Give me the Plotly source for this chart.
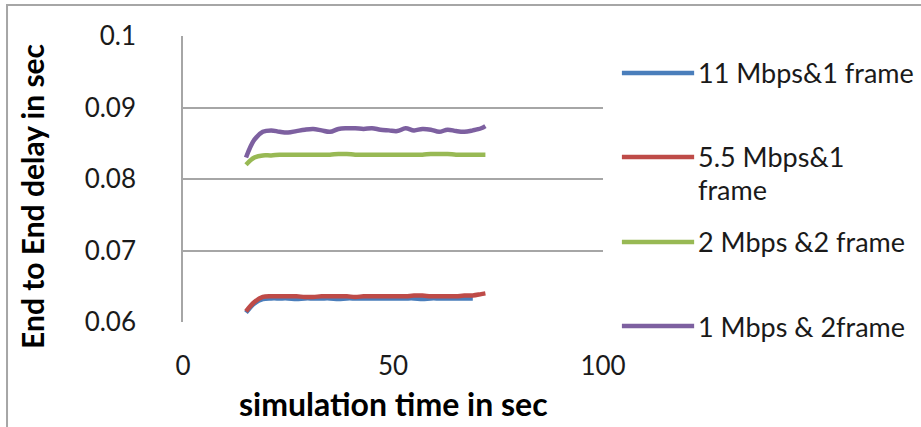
import plotly.graph_objects as go

# ---- data ----
time_s = [15, 17, 19, 21, 23, 25, 27, 29, 31, 33, 35, 37, 39, 41, 43, 45, 47, 49,
          51, 53, 55, 57, 59, 61, 63, 65, 67, 69, 71, 72]

delay_11mbps_1f = [0.0613, 0.0626, 0.0632, 0.0633, 0.0633, 0.0633, 0.0632, 0.0633, 0.0633,
                   0.0633, 0.0633, 0.0632, 0.0633, 0.0633, 0.0633, 0.0633, 0.0633, 0.0633,
                   0.0633, 0.0633, 0.0633, 0.0632, 0.0633, 0.0633, 0.0633, 0.0633, 0.0633,
                   0.0633, None, None]
delay_5_5mbps_1f = [0.0615, 0.0628, 0.0635, 0.0636, 0.0636, 0.0636, 0.0636, 0.0635, 0.0635,
                    0.0636, 0.0636, 0.0636, 0.0636, 0.0635, 0.0636, 0.0636, 0.0636, 0.0636,
                    0.0636, 0.0636, 0.0637, 0.0637, 0.0636, 0.0636, 0.0636, 0.0636, 0.0637,
                    0.0637, 0.0639, 0.0640]
delay_2mbps_2f = [0.0820, 0.0830, 0.0833, 0.0833, 0.0834, 0.0834, 0.0834, 0.0834, 0.0834,
                  0.0834, 0.0834, 0.0835, 0.0835, 0.0834, 0.0834, 0.0834, 0.0834, 0.0834,
                  0.0834, 0.0834, 0.0834, 0.0834, 0.0835, 0.0835, 0.0835, 0.0834, 0.0834,
                  0.0834, 0.0834, 0.0834]
delay_1mbps_2f = [0.0830, 0.0855, 0.0866, 0.0868, 0.0866, 0.0865, 0.0867, 0.0869, 0.0870,
                  0.0868, 0.0866, 0.0870, 0.0871, 0.0871, 0.0870, 0.0871, 0.0869, 0.0868,
                  0.0867, 0.0871, 0.0868, 0.0870, 0.0869, 0.0866, 0.0869, 0.0867, 0.0866,
                  0.0868, 0.0871, 0.0874]

series_names = ["11 Mbps&1 frame", "5.5 Mbps&1<br>frame", "2 Mbps &2 frame", "1 Mbps & 2frame"]
series_values = [delay_11mbps_1f, delay_5_5mbps_1f, delay_2mbps_2f, delay_1mbps_2f]
series_colors = ["#4A7EBB", "#BE4B48", "#98B954", "#7D60A0"]

y_ticks = [0.06, 0.07, 0.08, 0.09, 0.1]
x_ticks = [0, 50, 100]

x_title = "simulation time in sec"
y_title = "End to End delay in sec"

FONT = "Lato"
TXT = "#1a1a1a"

fig = go.Figure()
for name, vals, col in zip(series_names, series_values, series_colors):
    fig.add_trace(go.Scatter(
        x=time_s, y=vals, mode="lines", name=name.replace("<br>", " "),
        line=dict(color=col, width=4.5, shape="spline", smoothing=1.0),
        showlegend=False, connectgaps=False,
    ))

# manual legend (long line samples like the original)
legend_y = [0.871, 0.577, 0.280, -0.014]
line_gap = 33 / 286.0
shapes = []
annotations = []
for name, col, ly in zip(series_names, series_colors, legend_y):
    shapes.append(dict(type="line", xref="paper", yref="paper",
                       x0=1.045, x1=1.217, y0=ly, y1=ly,
                       line=dict(color=col, width=4.5)))
    for i, part in enumerate(name.split("<br>")):
        annotations.append(dict(xref="paper", yref="paper", x=1.222, y=ly - i * line_gap,
                                xanchor="left", yanchor="middle", showarrow=False,
                                text=part, font=dict(family=FONT, size=27, color=TXT)))

# axis titles
annotations.append(dict(xref="paper", yref="paper", x=0.5, y=-0.285,
                        xanchor="center", yanchor="middle", showarrow=False,
                        text="<b>" + x_title + "</b>",
                        font=dict(family=FONT, size=32, color="black")))
annotations.append(dict(xref="paper", yref="paper", x=-0.36, y=0.44,
                        xanchor="center", yanchor="middle", showarrow=False, textangle=-90,
                        text="<b>" + y_title + "</b>",
                        font=dict(family=FONT, size=30, color="black")))

# outer chart border
shapes.append(dict(type="rect", xref="paper", yref="paper",
                   x0=-0.419, x1=1.80, y0=1.108, y1=-0.45,
                   line=dict(color="#a6a6a6", width=2), layer="below"))

fig.update_layout(
    width=921, height=427,
    margin=dict(l=183, r=318, t=36, b=105),
    paper_bgcolor="white", plot_bgcolor="white",
    font=dict(family=FONT, size=26, color=TXT),
    shapes=shapes, annotations=annotations,
    showlegend=False,
)
fig.update_xaxes(
    range=[0, 100], tickvals=x_ticks, showgrid=False, zeroline=False,
    showline=False, ticks="", ticklabelstandoff=26,
    tickfont=dict(family=FONT, size=26, color=TXT),
)
fig.update_yaxes(
    range=[0.06, 0.1], tickvals=y_ticks, showgrid=True, gridcolor="#a6a6a6", gridwidth=1.5,
    zeroline=False, showline=True, linecolor="#a6a6a6", linewidth=1.5, ticks="",
    ticklabelstandoff=40,
    tickfont=dict(family=FONT, size=26, color=TXT),
)

fig.write_html("out.html")
